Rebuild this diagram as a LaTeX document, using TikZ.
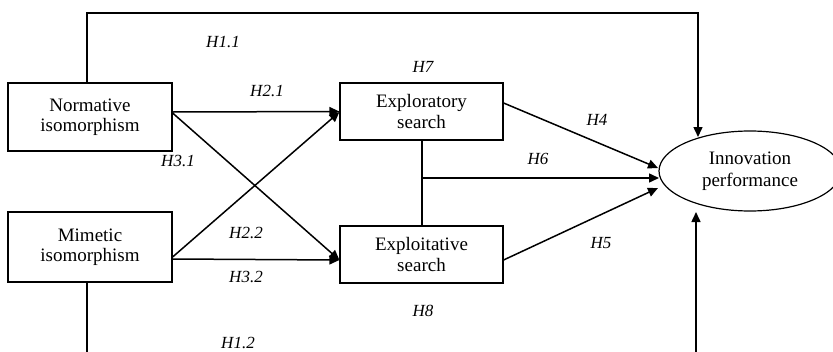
\documentclass[tikz,border=0pt]{standalone}
\usepackage{fontspec}
\setmainfont{Liberation Serif}
\usetikzlibrary{arrows.meta,shapes.geometric,calc}
\begin{document}
\begin{tikzpicture}[x=1pt,y=-1pt,
  boxnode/.style={draw,line width=1.2pt,inner sep=0pt,align=center,
    font=\fontsize{19}{20.5}\selectfont},
  ellnode/.style={draw,ellipse,line width=1.2pt,inner sep=0pt,align=center,
    minimum width=182pt,minimum height=80pt,font=\fontsize{19}{22}\selectfont},
  hlabel/.style={font=\fontsize{17}{17}\selectfont\itshape,inner sep=0pt},
  arr/.style={line width=1.5pt,-{Triangle[length=10pt,width=9pt]}},
  plain/.style={line width=1.5pt}]
\useasboundingbox (0,0) rectangle (833,351);
\node[boxnode,minimum width=164pt,minimum height=68pt] (N) at (90,117) {Normative\\isomorphism};
\node[boxnode,minimum width=164pt,minimum height=70pt] (M) at (90,247) {Mimetic\\isomorphism};
\node[boxnode,minimum width=163pt,minimum height=57pt] (E1) at (421.5,111.5) {Exploratory\\search};
\node[boxnode,minimum width=163pt,minimum height=57pt] (E2) at (421.5,254.5) {Exploitative\\search};
\node[ellnode] (P) at (750,171) {Innovation\\performance};
% connector endpoints
\coordinate (ntop) at (87,13);
\coordinate (ptop) at (698,13);
\coordinate (ptopend) at (698,137);
\coordinate (mbot) at (87,356);
\coordinate (pbot) at (696,356);
\coordinate (pbotend) at (696,212);
\coordinate (h4end) at (658,168);
\coordinate (h6end) at (659,178);
\coordinate (h5end) at (658,188);
\coordinate (h6start) at (422,178);
% H1.1 and H1.2
\draw[arr] ([xshift=-3pt]N.north) -- (ntop) -- (ptop) -- (ptopend);
\draw[plain] ([xshift=-3pt]M.south) -- (mbot);
\draw[arr] (pbot) -- (pbotend);
% H2, H3
\draw[arr] ([yshift=5pt]N.east) -- (E1.west);
\draw[arr] ([yshift=4pt]N.east) -- ([yshift=-5.5pt]E2.west);
\draw[arr] ([yshift=-12pt]M.east) -- ([yshift=-5.5pt]E2.west);
\draw[arr] ([yshift=-10pt]M.east) -- ([yshift=-0.5pt]E1.west);
% H4, H5, H6
\draw[arr] ([yshift=8.5pt]E1.east) -- (h4end);
\draw[arr] ([yshift=-5.5pt]E2.east) -- (h5end);
\draw[plain] (E1.south -| h6start) -- (E2.north -| h6start);
\draw[arr] (h6start) -- (h6end);
% labels
\node[hlabel] at (223,42) {H1.1};
\node[hlabel] at (423,67) {H7};
\node[hlabel] at (267,91) {H2.1};
\node[hlabel] at (178,161) {H3.1};
\node[hlabel] at (597,120) {H4};
\node[hlabel] at (538,159) {H6};
\node[hlabel] at (246,233) {H2.2};
\node[hlabel] at (246,277) {H3.2};
\node[hlabel] at (423,311) {H8};
\node[hlabel] at (601,243) {H5};
\node[hlabel] at (238,343) {H1.2};
\end{tikzpicture}
\end{document}
